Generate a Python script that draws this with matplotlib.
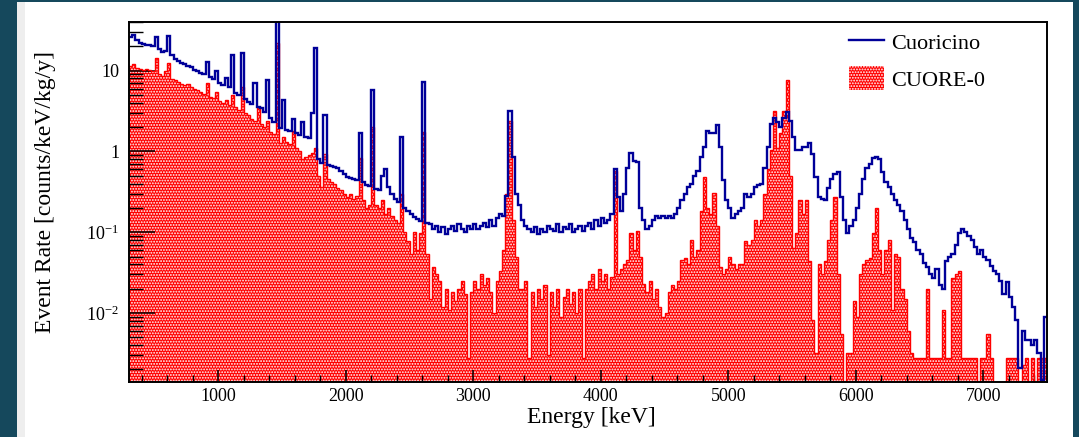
import numpy as np
import matplotlib
matplotlib.use("Agg")
import matplotlib.pyplot as plt
from matplotlib.patches import Rectangle, Patch
from matplotlib.lines import Line2D
from matplotlib.ticker import LogLocator, FixedLocator, NullFormatter, FuncFormatter, MultipleLocator

# ---------------- data ----------------
e_min, e_max, bin_width = 300, 7500, 25   # keV

cuoricino = np.array([
    26, 28, 24, 22,
    21.5, 21, 20.5, 20,
    26, 18.5, 17, 17.5,
    27, 15.5, 14, 13.2,
    12.5, 12, 11.5, 11,
    10.3, 9.8, 9.4, 9.0,
    12.7, 8.3, 7.9, 10,
    7.0, 6.7, 8.1, 6.2,
    15.6, 5.3, 5.0, 16.5,
    4.4, 4.1, 3.9, 7.0,
    3.5, 3.4, 3.1, 7.6,
    2.6, 2.3, 60, 1.95,
    4.3, 1.85, 1.8, 2.5,
    1.7, 1.6, 2.3, 1.5,
    1.45, 3.0, 19, 0.8,
    0.72, 2.8, 0.68, 0.66,
    0.64, 0.62, 0.58, 0.52,
    0.48, 0.47, 0.45, 0.44,
    1.67, 0.42, 0.38, 0.37,
    5.7, 0.34, 0.33, 0.5,
    0.6, 0.36, 0.3, 0.26,
    0.24, 1.49, 0.2, 0.185,
    0.17, 0.155, 0.145, 0.139,
    7.2, 0.13, 0.128, 0.11,
    0.12, 0.1, 0.115, 0.095,
    0.11, 0.12, 0.105, 0.125,
    0.11, 0.1, 0.12, 0.11,
    0.125, 0.11, 0.12, 0.13,
    0.115, 0.14, 0.12, 0.15,
    0.17, 0.16, 0.28, 3.2,
    0.85, 0.3, 0.22, 0.14,
    0.12, 0.11, 0.1, 0.115,
    0.095, 0.11, 0.1, 0.12,
    0.11, 0.105, 0.125, 0.1,
    0.115, 0.11, 0.125, 0.1,
    0.11, 0.12, 0.105, 0.12,
    0.13, 0.11, 0.14, 0.12,
    0.15, 0.13, 0.14, 0.17,
    0.61, 0.27, 0.185, 0.3,
    0.63, 0.97, 0.77, 0.73,
    0.2, 0.14, 0.11, 0.12,
    0.14, 0.16, 0.15, 0.16,
    0.15, 0.16, 0.15, 0.17,
    0.2, 0.25, 0.3, 0.36,
    0.4, 0.5, 0.58, 0.85,
    1.12, 1.8, 1.7, 1.67,
    2.1, 1.12, 0.44, 0.25,
    0.2, 0.15, 0.17, 0.185,
    0.2, 0.3, 0.27, 0.3,
    0.36, 0.38, 0.4, 0.63,
    1.12, 2.2, 2.57, 2.3,
    2.0, 2.6, 3.05, 2.4,
    1.5, 1.03, 1.05, 1.12,
    1.15, 1.26, 0.94, 0.48,
    0.27, 0.26, 0.25, 0.35,
    0.45, 0.53, 0.55, 0.27,
    0.14, 0.097, 0.12, 0.14,
    0.2, 0.3, 0.45, 0.63,
    0.7, 0.84, 0.86, 0.8,
    0.55, 0.42, 0.36, 0.3,
    0.25, 0.22, 0.185, 0.14,
    0.11, 0.085, 0.075, 0.06,
    0.054, 0.042, 0.037, 0.03,
    0.027, 0.035, 0.022, 0.02,
    0.044, 0.05, 0.054, 0.07,
    0.097, 0.11, 0.1, 0.09,
    0.08, 0.065, 0.054, 0.06,
    0.05, 0.045, 0.038, 0.033,
    0.03, 0.025, 0.017, 0.024,
    0.016, 0.012, 0.0082, 0.0021,
    0.006, 0.0046, 0.0046, 0.004,
    0.0046, 0.0032, 0.0015, 0.009,
])

cuore0 = np.array([
    11.5, 12, 10.8, 10.5,
    10.3, 10.5, 10.2, 10,
    14.3, 9.0, 8.6, 10,
    12.4, 7.8, 7.6, 7.3,
    6.9, 6.6, 6.8, 6.3,
    6.0, 5.8, 5.5, 5.2,
    7.0, 4.7, 4.6, 5.5,
    4.2, 4.0, 4.3, 3.8,
    5.0, 3.5, 3.3, 6.2,
    3.0, 2.8, 2.5, 2.4,
    3.5, 2.2, 2.0, 2.4,
    1.75, 1.65, 22, 1.26,
    1.5, 1.3, 1.25, 1.8,
    1.1, 1.0, 0.8, 0.85,
    0.9, 0.95, 1.1, 0.5,
    0.36, 0.94, 0.45, 0.42,
    0.4, 0.35, 0.33, 0.3,
    0.27, 0.3, 0.26, 0.28,
    0.84, 0.25, 0.2, 0.22,
    2.0, 0.22, 0.2, 0.25,
    0.17, 0.2, 0.16, 0.14,
    0.13, 0.3, 0.1, 0.078,
    0.054, 0.1, 0.06, 0.097,
    1.72, 0.054, 0.015, 0.037,
    0.03, 0.025, 0.012, 0.02,
    0.011, 0.018, 0.014, 0.02,
    0.025, 0.017, 0.0028, 0.018,
    0.025, 0.02, 0.03, 0.022,
    0.027, 0.018, 0.01, 0.025,
    0.033, 0.06, 0.3, 2.4,
    0.14, 0.05, 0.02, 0.02,
    0.025, 0.0028, 0.018, 0.012,
    0.02, 0.015, 0.022, 0.003,
    0.018, 0.012, 0.02, 0.009,
    0.016, 0.02, 0.013, 0.018,
    0.01, 0.02, 0.0028, 0.02,
    0.025, 0.03, 0.02, 0.035,
    0.025, 0.03, 0.02, 0.028,
    0.58, 0.03, 0.035, 0.04,
    0.045, 0.097, 0.06, 0.105,
    0.05, 0.023, 0.018, 0.025,
    0.015, 0.02, 0.012, 0.009,
    0.01, 0.018, 0.022, 0.02,
    0.025, 0.045, 0.048, 0.04,
    0.08, 0.05, 0.06, 0.185,
    0.48, 0.2, 0.17, 0.31,
    0.12, 0.037, 0.03, 0.035,
    0.05, 0.04, 0.035, 0.04,
    0.04, 0.078, 0.07, 0.08,
    0.14, 0.12, 0.14, 0.3,
    0.6, 1.03, 3.2, 1.1,
    1.67, 3.2, 7.6, 0.5,
    0.064, 0.097, 0.25, 0.17,
    0.25, 0.044, 0.0082, 0.0032,
    0.04, 0.03, 0.044, 0.08,
    0.14, 0.27, 0.03, 0.0055,
    0, 0.0032, 0.0032, 0.014,
    0.009, 0.03, 0.04, 0.045,
    0.048, 0.097, 0.2, 0.06,
    0.03, 0.06, 0.08, 0.011,
    0.054, 0.05, 0.02, 0.015,
    0.006, 0.0032, 0.0028, 0.0028,
    0.0028, 0.0028, 0.02, 0.0028,
    0.0028, 0.0028, 0.0028, 0.011,
    0.0028, 0.0028, 0.027, 0.03,
    0.033, 0.0028, 0.0028, 0.0028,
    0.0028, 0.0028, 0, 0.0028,
    0.0028, 0.0055, 0.0028, 0,
    0, 0, 0, 0.0028,
    0.0028, 0.0028, 0.0028, 0,
    0.0023, 0.0028, 0, 0.0028,
    0, 0.0028, 0.0028, 0.0028,
])

series_labels = ["Cuoricino", "CUORE-0"]
x_label = "Energy [keV]"
y_label = "Event Rate [counts/keV/kg/y]"
y_range = (0.0014, 40)

# ---------------- style ----------------
plt.rcParams["font.family"] = ["Liberation Serif", "DejaVu Serif"]
plt.rcParams["mathtext.fontset"] = "stix"
plt.rcParams["hatch.linewidth"] = 0.9

W, H = 1079, 437
fig = plt.figure(figsize=(W / 100, H / 100), dpi=100, facecolor="#15485c")
fig.patches.append(Rectangle((17 / W, 0), (1073 - 17) / W, (H - 2) / H,
                             transform=fig.transFigure, facecolor="#eeeeee",
                             edgecolor="none", zorder=-20))
fig.patches.append(Rectangle((25 / W, 0), (1073 - 25) / W, (H - 2) / H,
                             transform=fig.transFigure, facecolor="white",
                             edgecolor="none", zorder=-19))

ax = fig.add_axes([129 / W, (H - 382) / H, (1047 - 129) / W, (382 - 22) / H])
ax.set_facecolor("white")

edges = np.arange(e_min, e_max + bin_width, bin_width)
floor = 1e-6
red_vals = np.where(cuore0 > 0, cuore0, floor)
blue_vals = np.where(cuoricino > 0, cuoricino, floor)

red_col = "#ff0000"
blue_col = "#000099"
hatch_pat = "......"

ax.stairs(red_vals, edges, baseline=floor, fill=True, facecolor=red_col,
          edgecolor="white", hatch=hatch_pat, linewidth=0, zorder=1)
ax.stairs(red_vals, edges, baseline=None, color=red_col, linewidth=1.0, zorder=2)
ax.stairs(blue_vals, edges, baseline=None, color=blue_col, linewidth=1.7, zorder=3)

ax.set_yscale("log")
ax.set_xlim(e_min, e_max)
ax.set_ylim(*y_range)

ax.xaxis.set_major_locator(MultipleLocator(1000))
ax.xaxis.set_minor_locator(MultipleLocator(200))
ax.yaxis.set_major_locator(LogLocator(base=10, numticks=10))
ax.yaxis.set_minor_locator(LogLocator(base=10, subs=np.arange(2, 10), numticks=20))
ax.yaxis.set_minor_formatter(NullFormatter())


def yfmt(v, pos):
    n = int(round(np.log10(v)))
    if n == 0:
        return "1"
    if n == 1:
        return "10"
    return r"$\mathregular{10^{%d}}$" % n


ax.yaxis.set_major_formatter(FuncFormatter(yfmt))

ax.tick_params(axis="x", which="major", direction="in", length=8.6, width=1.1,
               pad=4, labelsize=13, top=False)
ax.tick_params(axis="x", which="minor", direction="in", length=4.7, width=1.0, top=False)
ax.tick_params(axis="y", which="major", direction="in", length=18.5, width=1.1,
               pad=7, labelsize=13, right=False)
ax.tick_params(axis="y", which="minor", direction="in", length=10, width=1.0, right=False)
for s in ax.spines.values():
    s.set_linewidth(1.4)
    s.set_zorder(5)

fig.text(591 / W, 1 - 418 / H, x_label, fontsize=17, ha="center", va="center")
fig.text(46 / W, 1 - 192 / H, y_label, fontsize=17, ha="center", va="center",
         rotation=90)

handles = [Line2D([], [], color=blue_col, linewidth=1.7),
           Patch(facecolor=red_col, edgecolor="white", hatch=hatch_pat, linewidth=0)]
fig.legend(handles, series_labels, loc="upper left",
           bbox_to_anchor=(849 / W, 1 - 30 / H), bbox_transform=fig.transFigure,
           frameon=False, fontsize=16, borderpad=0, borderaxespad=0,
           handlelength=1.58, handleheight=1.26, handletextpad=0.32,
           labelspacing=0.54)

fig.savefig("out.png", dpi=100, facecolor=fig.get_facecolor())
